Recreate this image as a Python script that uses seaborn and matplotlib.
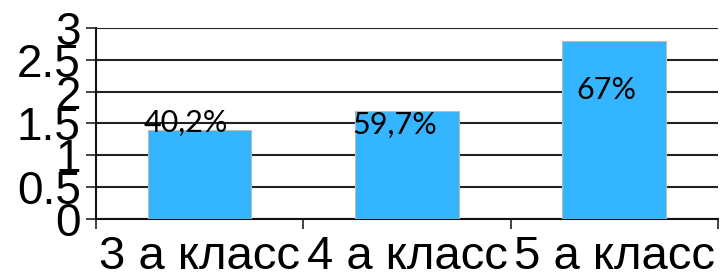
import pandas as pd
import matplotlib.pyplot as plt
import seaborn as sns

# данные
klassy = ["3 а класс", "4 а класс", "5 а класс"]
znacheniya = [1.4, 1.7, 2.8]
podpisi = ["40,2%", "59,7%", "67%"]
y_metki = ["0", "0.5", "1", "1.5", "2", "2.5", "3"]

df = pd.DataFrame({"klass": klassy, "znach": znacheniya})

sns.set_style("white")
plt.rcParams["font.family"] = ["Liberation Sans", "DejaVu Sans"]
plt.rcParams["text.color"] = "black"
plt.rcParams["xtick.color"] = "black"
plt.rcParams["ytick.color"] = "black"

fig = plt.figure(figsize=(7.23, 2.79), dpi=100)
ax = fig.add_axes([0.1328, 0.2168, 0.8602, 0.6828])

sns.barplot(data=df, x="klass", y="znach", color="#33B5FF", width=0.5,
            edgecolor="#BBBBBB", linewidth=0.8, saturation=1, ax=ax, zorder=3)

ax.set_xlim(-0.5, 2.5)
ax.set_ylim(0, 3)
ax.set_yticks([i * 0.5 for i in range(len(y_metki))])
ax.set_yticklabels(y_metki, fontsize=33)
ax.yaxis.grid(True, color="#222222", linewidth=1.5, zorder=0)
ax.set_axisbelow(True)
ax.tick_params(axis="y", length=7, width=1.2, color="#222222", pad=4, left=True)

# деления между категориями
ax.set_xticks([i - 0.5 for i in range(len(klassy) + 1)], minor=True)
ax.tick_params(axis="x", which="minor", length=7, width=1.2, color="#222222", bottom=True)
ax.tick_params(axis="x", which="major", length=0, labelsize=34, pad=12)
ax.set_xticklabels(klassy)

ax.set_xlabel("")
ax.set_ylabel("")
for s in ["top", "right"]:
    ax.spines[s].set_visible(False)
for s in ["left", "bottom"]:
    ax.spines[s].set_color("#111111")
    ax.spines[s].set_linewidth(1.5)

# подписи данных (как в Excel, чуть смещены)
sdvig_x = [-0.065, -0.06, -0.04]
poz_y = [1.51, 1.47, 2.03]
for i, t in enumerate(podpisi):
    ax.text(i + sdvig_x[i], poz_y[i], t, ha="center", va="center",
            fontsize=22, color="black", family=["Lato", "DejaVu Sans"], zorder=5)

fig.savefig("out.png", dpi=100)
